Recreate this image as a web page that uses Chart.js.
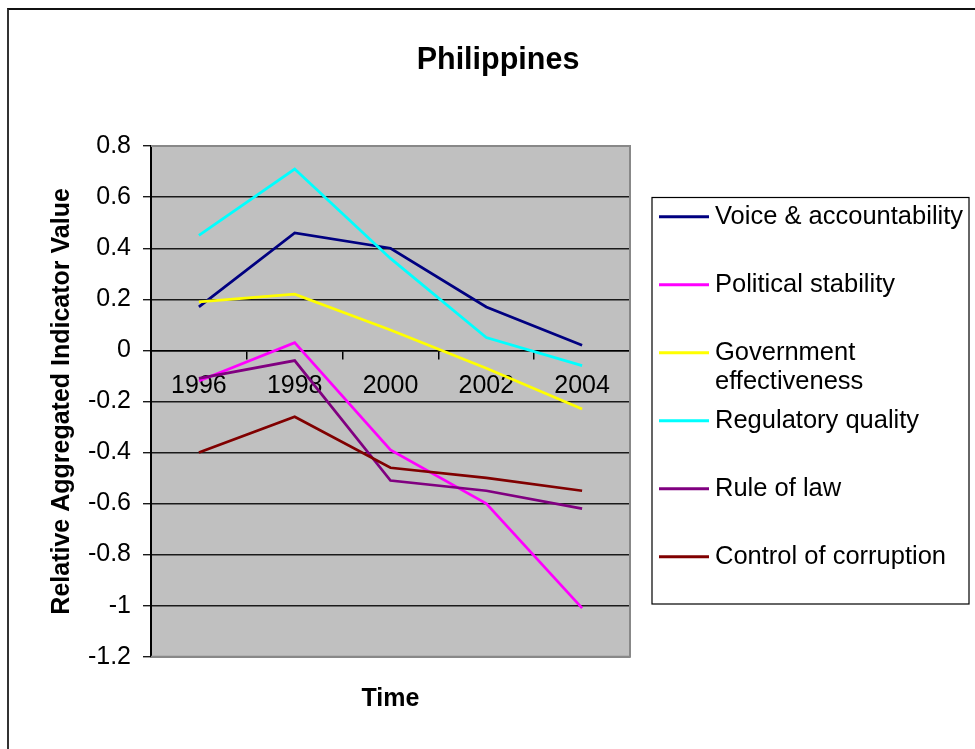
<!DOCTYPE html>
<html>
<head>
<meta charset="utf-8">
<script src="https://cdn.jsdelivr.net/npm/chart.js@4/dist/chart.umd.min.js"></script>
<style>
  html, body { margin: 0; padding: 0; background: #fff; overflow: hidden; }
  #wrap { position: relative; width: 975px; height: 749px; }
  #frame { position: absolute; left: 7px; top: 8px; width: 1000px; height: 800px;
           border-left: 2px solid #333; border-top: 2px solid #111; }
  canvas { position: absolute; left: 0; top: 0; }
</style>
</head>
<body>
<div id="wrap">
  <div id="frame"></div>
  <canvas id="govChart" width="975" height="749"></canvas>
</div>
<script>
const years = ['1996', '1998', '2000', '2002', '2004'];

const voice      = [0.17, 0.46, 0.40, 0.17, 0.02];
const political  = [-0.12, 0.03, -0.39, -0.60, -1.01];
const government = [0.19, 0.22, 0.08, -0.07, -0.23];
const regulatory = [0.45, 0.71, 0.36, 0.05, -0.06];
const ruleOfLaw  = [-0.11, -0.04, -0.51, -0.55, -0.62];
const corruption = [-0.40, -0.26, -0.46, -0.50, -0.55];

const seriesNames  = ['Voice & accountability', 'Political stability', 'Government effectiveness',
                      'Regulatory quality', 'Rule of law', 'Control of corruption'];
const seriesColors = ['#000080', '#FF00FF', '#FFFF00', '#00FFFF', '#800080', '#800000'];
const seriesValues = [voice, political, government, regulatory, ruleOfLaw, corruption];

const FONT = '"Liberation Sans", Arial, sans-serif';
Chart.defaults.font.family = FONT;
Chart.defaults.color = '#000';

// grey plot background + grey frame on top/right/bottom, like the old Excel look
const plotArea = {
  id: 'plotArea',
  beforeDraw(chart) {
    const a = chart.chartArea, ctx = chart.ctx;
    ctx.save();
    ctx.fillStyle = '#C0C0C0';
    ctx.fillRect(a.left, a.top, a.right - a.left, a.bottom - a.top);
    ctx.restore();
  },
  beforeDatasetsDraw(chart) {
    const a = chart.chartArea, ctx = chart.ctx;
    ctx.save();
    ctx.strokeStyle = '#888';
    ctx.lineWidth = 2;
    ctx.beginPath();
    ctx.moveTo(a.left, a.top);
    ctx.lineTo(a.right, a.top);
    ctx.lineTo(a.right, a.bottom);
    ctx.lineTo(a.left, a.bottom);
    ctx.stroke();
    ctx.restore();
  }
};

// boxed legend on the right, one row slot per series
const boxLegend = {
  id: 'boxLegend',
  afterDraw(chart) {
    const ctx = chart.ctx;
    ctx.save();
    ctx.strokeStyle = '#000';
    ctx.lineWidth = 1.2;
    ctx.strokeRect(652, 197.5, 317, 406.5);
    ctx.font = '25.5px ' + FONT;
    ctx.textBaseline = 'middle';
    ctx.textAlign = 'left';
    ctx.fillStyle = '#000';
    const maxW = 250;
    chart.data.datasets.forEach((ds, i) => {
      const y = 216.7 + 68 * i;
      ctx.strokeStyle = ds.borderColor;
      ctx.lineWidth = 3;
      ctx.beginPath();
      ctx.moveTo(659, y);
      ctx.lineTo(709, y);
      ctx.stroke();
      // simple word wrap
      const lines = [];
      let cur = '';
      ds.label.split(' ').forEach(w => {
        const test = cur ? cur + ' ' + w : w;
        if (cur && ctx.measureText(test).width > maxW) { lines.push(cur); cur = w; }
        else cur = test;
      });
      lines.push(cur);
      lines.forEach((t, j) => ctx.fillText(t, 715, y + j * 29.5));
    });
    ctx.restore();
  }
};

const ctx = document.getElementById('govChart').getContext('2d');
new Chart(ctx, {
  type: 'line',
  data: {
    labels: years,
    datasets: seriesNames.map((name, i) => ({
      label: name,
      data: seriesValues[i],
      borderColor: seriesColors[i],
      backgroundColor: seriesColors[i],
      borderWidth: 2.75,
      pointRadius: 0,
      tension: 0,
      fill: false,
      order: seriesNames.length - i
    }))
  },
  options: {
    responsive: false,
    animation: false,
    devicePixelRatio: 1,
    layout: { padding: { left: 21, right: 0, top: 0, bottom: 0 } },
    plugins: {
      legend: { display: false },
      tooltip: { enabled: false },
      title: {
        display: true,
        text: 'Philippines',
        font: { size: 30.5, weight: 'bold' },
        color: '#000',
        padding: { top: 42, bottom: 67.5 }
      },
      subtitle: {
        display: true,
        position: 'bottom',
        fullSize: false,
        text: 'Time',
        font: { size: 25, weight: 'bold' },
        color: '#000',
        padding: { top: 27.3, bottom: 35 }
      }
    },
    scales: {
      x: {
        type: 'category',
        position: { y: 0 },
        offset: true,
        grid: { offset: true, drawOnChartArea: false, drawTicks: true, tickLength: 8, color: '#000', lineWidth: 1.5 },
        border: { display: true, color: '#000', width: 1.5 },
        ticks: { font: { size: 25 }, color: '#000', padding: 13, maxRotation: 0, autoSkip: false },
        afterFit(scale) { scale.height = 0; }
      },
      y: {
        position: 'left',
        min: -1.2,
        max: 0.8,
        ticks: {
          stepSize: 0.2,
          font: { size: 25 },
          color: '#000',
          padding: 12,
          callback: v => String(Math.round(v * 10) / 10)
        },
        grid: { color: '#1a1a1a', lineWidth: 1.4, tickLength: 8, drawTicks: true },
        border: { display: true, color: '#000', width: 2 },
        title: {
          display: true,
          text: 'Relative Aggregated Indicator Value',
          font: { size: 25, weight: 'bold' },
          color: '#000',
          padding: { top: 26, bottom: 0 }
        },
        afterFit(scale) { scale.width = 130; }
      },
      yR: {
        position: 'right',
        display: true,
        grid: { display: false },
        border: { display: false },
        ticks: { display: false },
        afterFit(scale) { scale.width = 345; }
      }
    }
  },
  plugins: [plotArea, boxLegend]
});
</script>
</body>
</html>
